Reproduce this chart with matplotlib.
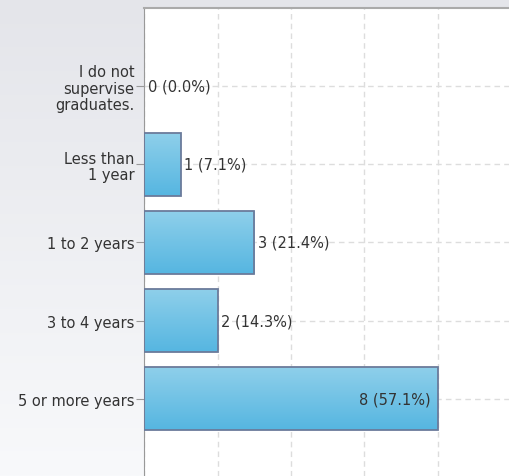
import numpy as np
import matplotlib
matplotlib.use("Agg")
import matplotlib.pyplot as plt
from matplotlib.colors import LinearSegmentedColormap

categories = ["I do not\nsupervise\ngraduates.", "Less than\n1 year", "1 to 2 years",
              "3 to 4 years", "5 or more years"]
counts = [0, 1, 3, 2, 8]
percents = [0.0, 7.1, 21.4, 14.3, 57.1]

fig = plt.figure(figsize=(5.09, 4.77), dpi=100)

# background gradient for the whole figure
bg = fig.add_axes([0, 0, 1, 1], zorder=-10)
bg_cmap = LinearSegmentedColormap.from_list("bg", ["#e4e5ea", "#f8f9fb"])
bg.imshow(np.linspace(0, 1, 256).reshape(-1, 1), aspect="auto", cmap=bg_cmap,
          extent=[0, 1, 0, 1])
bg.axis("off")

ax = fig.add_axes([144 / 509, 0, (511.5 - 144) / 509, 1 - 9 / 477])
ax.set_facecolor("white")

ypos = np.arange(len(categories))
bar_cmap = LinearSegmentedColormap.from_list("bar", ["#8ecfea", "#56b6e1"])
edges = ["none" if c == 0 else "#6b7b9b" for c in counts]
bars = ax.barh(ypos, counts, height=0.8, color="none", edgecolor=edges,
               linewidth=1.3, zorder=3)
for b in bars:
    x0, y0 = b.get_x(), b.get_y()
    w, h = b.get_width(), b.get_height()
    if w == 0:
        continue
    im = ax.imshow(np.linspace(0, 1, 64).reshape(-1, 1), aspect="auto", cmap=bar_cmap,
                   extent=[x0, x0 + w, y0 + h, y0], zorder=2)
    im.set_clip_path(b)
ax.set_xlim(0, 10)
ax.set_ylim(4.99, -1)

fs = 10.5
for i, (c, p) in enumerate(zip(counts, percents)):
    label = f"{c} ({p:.1f}%)"
    if c == max(counts):
        ax.text(c - 0.2, i, label, va="center", ha="right", fontsize=fs, color="#333333", zorder=4)
    else:
        ax.text(c + 0.1, i, label, va="center", ha="left", fontsize=fs, color="#333333", zorder=4)

ax.set_yticks(ypos)
ax.set_yticklabels(categories, fontsize=fs, color="#333333", linespacing=1.12)
ax.set_xticks([0, 2, 4, 6, 8, 10])
ax.tick_params(axis="x", length=0, labelbottom=False)
ax.tick_params(axis="y", length=6, color="#999999", pad=1)
ax.grid(True, color="#dddddd", linestyle=(0, (4, 3)), linewidth=1, zorder=0)
ax.set_axisbelow(True)

for s in ["right", "bottom"]:
    ax.spines[s].set_visible(False)
ax.spines["left"].set_color("#999999")
ax.spines["top"].set_color("#aaaaaa")
ax.spines["top"].set_linewidth(1.5)

fig.savefig("out.png", dpi=100)
